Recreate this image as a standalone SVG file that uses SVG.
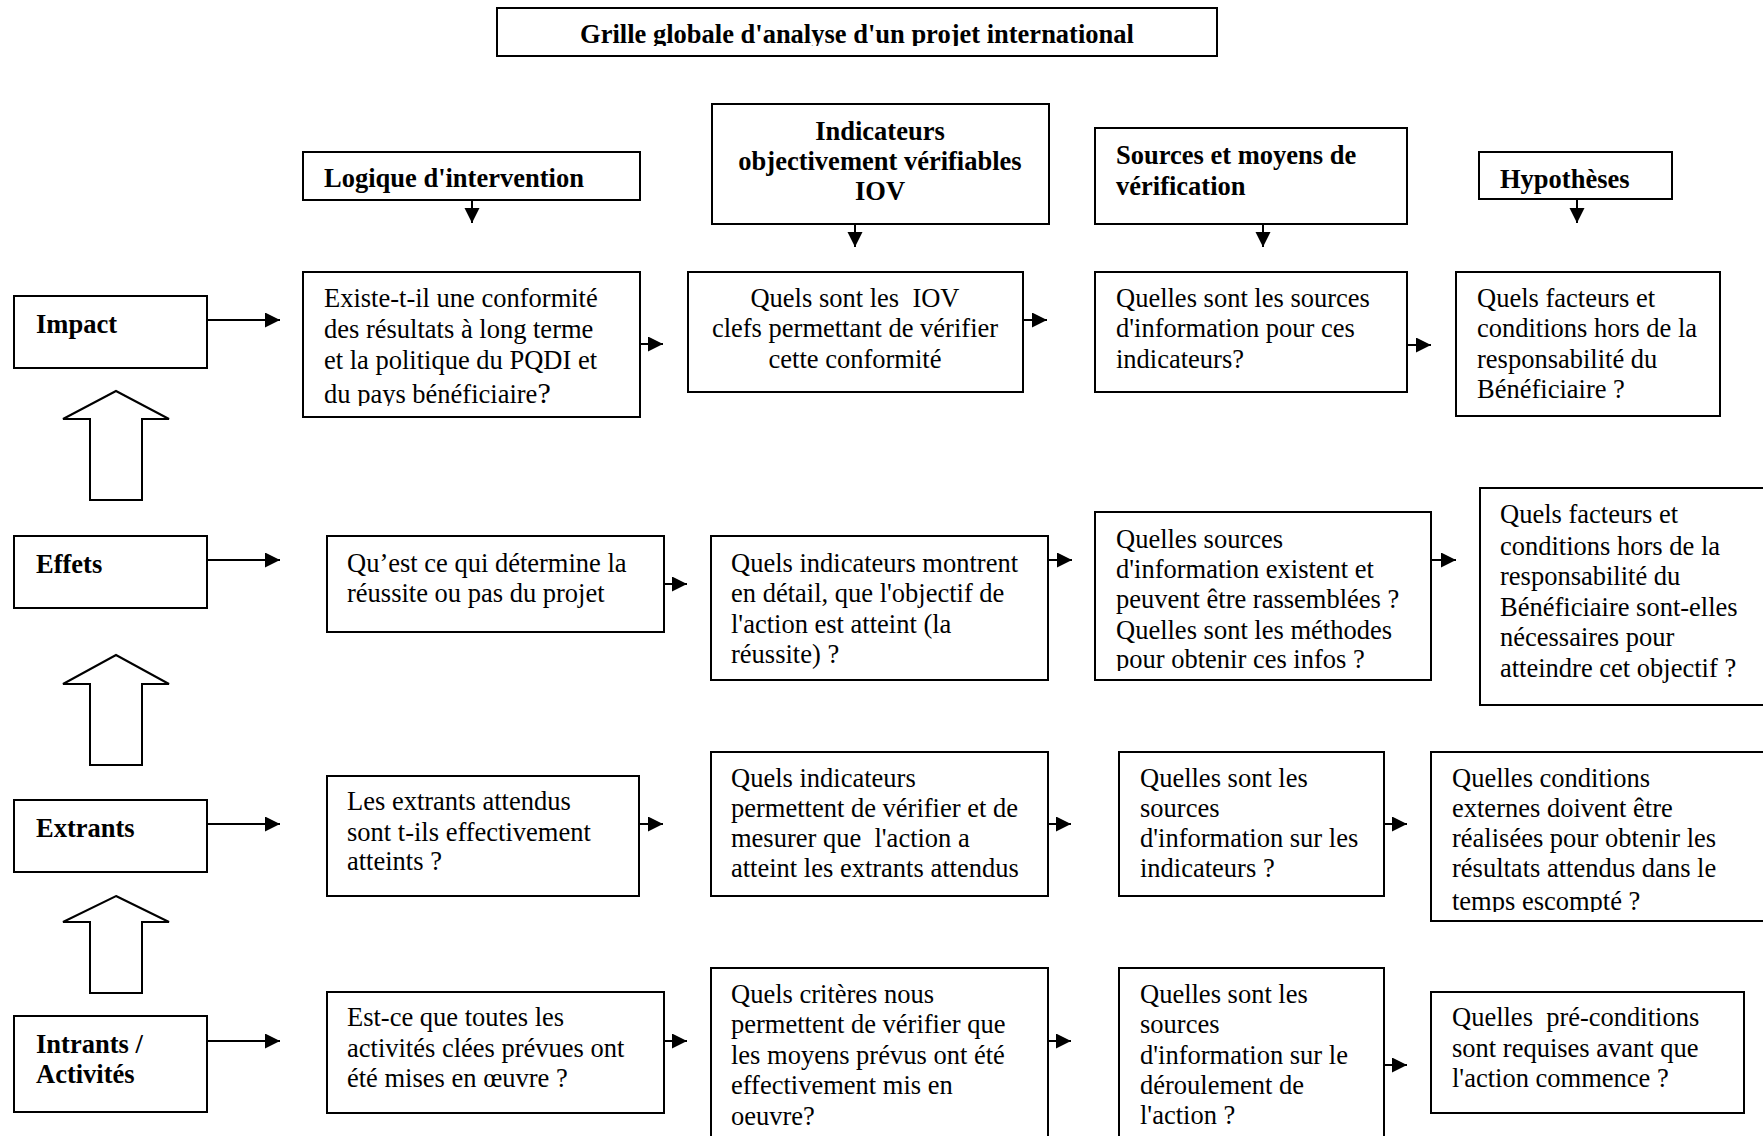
<svg xmlns="http://www.w3.org/2000/svg" width="1763" height="1136" viewBox="0 0 1763 1136">
  <style>
    .box { fill: #fff; stroke: #000; stroke-width: 2; }
    .t { font-family: "Liberation Serif", "Times New Roman", serif; font-size: 26.5px; fill: #000; white-space: pre; }
    .b { font-weight: bold; }
    .c { text-anchor: middle; }
    .hollow { fill: #fff; stroke: #000; stroke-width: 2; stroke-linejoin: miter; }
    .conn line { stroke: #000; stroke-width: 2; marker-end: url(#ah); }
  </style>
  <defs>
    <marker id="ah" markerUnits="userSpaceOnUse" markerWidth="16" markerHeight="16" refX="15" refY="7.5" orient="auto">
      <path d="M0,0 L15,7.5 L0,15 z" fill="#000"/>
    </marker>
    <clipPath id="clipTitle"><rect x="497" y="8" width="720" height="38"/></clipPath>
    <clipPath id="clipA1"><rect x="303" y="272" width="337" height="134"/></clipPath>
    <clipPath id="clipC2"><rect x="1095" y="512" width="336" height="159"/></clipPath>
    <clipPath id="clipD3"><rect x="1431" y="752" width="340" height="160"/></clipPath>
  </defs>

  <!-- title -->
  <g id="title">
    <rect class="box" x="497" y="8" width="720" height="48"/>
    <text class="t b c" x="857" y="43" clip-path="url(#clipTitle)">Grille globale d'analyse d'un projet international</text>
  </g>

  <!-- column headers -->
  <g id="head-logique">
    <rect class="box" x="303" y="152" width="337" height="48"/>
    <text class="t b" x="324" y="187">Logique d'intervention</text>
  </g>
  <g id="head-iov">
    <rect class="box" x="712" y="104" width="337" height="120"/>
    <text class="t b c" x="880" y="140">Indicateurs</text>
    <text class="t b c" x="880" y="170">objectivement vérifiables</text>
    <text class="t b c" x="880" y="200">IOV</text>
  </g>
  <g id="head-sources">
    <rect class="box" x="1095" y="128" width="312" height="96"/>
    <text class="t b" x="1116" y="164">Sources et moyens de</text>
    <text class="t b" x="1116" y="195">vérification</text>
  </g>
  <g id="head-hypotheses">
    <rect class="box" x="1479" y="152" width="193" height="47"/>
    <text class="t b" x="1500" y="188">Hypothèses</text>
  </g>

  <!-- row labels -->
  <g id="lbl-impact">
    <rect class="box" x="14" y="296" width="193" height="72"/>
    <text class="t b" x="36" y="333">Impact</text>
  </g>
  <g id="lbl-effets">
    <rect class="box" x="14" y="536" width="193" height="72"/>
    <text class="t b" x="36" y="573">Effets</text>
  </g>
  <g id="lbl-extrants">
    <rect class="box" x="14" y="800" width="193" height="72"/>
    <text class="t b" x="36" y="837">Extrants</text>
  </g>
  <g id="lbl-intrants">
    <rect class="box" x="14" y="1016" width="193" height="96"/>
    <text class="t b" x="36" y="1053">Intrants /</text>
    <text class="t b" x="36" y="1083">Activités</text>
  </g>

  <!-- hollow upward arrows between levels -->
  <g id="up-arrows">
    <polygon class="hollow" points="116,391 169,419 142,419 142,500 90,500 90,419 63,419"/>
    <polygon class="hollow" points="116,655 169,684 142,684 142,765 90,765 90,684 63,684"/>
    <polygon class="hollow" points="116,896 169,922 142,922 142,993 90,993 90,922 63,922"/>
  </g>

  <!-- row 1: impact -->
  <g id="impact-logique">
    <rect class="box" x="303" y="272" width="337" height="145"/>
    <g clip-path="url(#clipA1)">
      <text class="t" x="324" y="307">Existe-t-il une conformité</text>
      <text class="t" x="324" y="338">des résultats à long terme</text>
      <text class="t" x="324" y="369">et la politique du PQDI et</text>
      <text class="t" x="324" y="403">du pays bénéficiaire<tspan font-size="30px">?</tspan></text>
    </g>
  </g>
  <g id="impact-iov">
    <rect class="box" x="688" y="272" width="335" height="120"/>
    <text class="t c" x="855" y="307">Quels sont les  IOV</text>
    <text class="t c" x="855" y="337">clefs permettant de vérifier</text>
    <text class="t c" x="855" y="368">cette conformité</text>
  </g>
  <g id="impact-sources">
    <rect class="box" x="1095" y="272" width="312" height="120"/>
    <text class="t" x="1116" y="307">Quelles sont les sources</text>
    <text class="t" x="1116" y="337">d'information pour ces</text>
    <text class="t" x="1116" y="368">indicateurs?</text>
  </g>
  <g id="impact-hypotheses">
    <rect class="box" x="1456" y="272" width="264" height="144"/>
    <text class="t" x="1477" y="307">Quels facteurs et</text>
    <text class="t" x="1477" y="337">conditions hors de la</text>
    <text class="t" x="1477" y="368">responsabilité du</text>
    <text class="t" x="1477" y="398">Bénéficiaire ?</text>
  </g>

  <!-- row 2: effets -->
  <g id="effets-logique">
    <rect class="box" x="327" y="536" width="337" height="96"/>
    <text class="t" x="347" y="572">Qu’est ce qui détermine la</text>
    <text class="t" x="347" y="602">réussite ou pas du projet</text>
  </g>
  <g id="effets-iov">
    <rect class="box" x="711" y="536" width="337" height="144"/>
    <text class="t" x="731" y="572">Quels indicateurs montrent</text>
    <text class="t" x="731" y="602">en détail, que l'objectif de</text>
    <text class="t" x="731" y="633">l'action est atteint (la</text>
    <text class="t" x="731" y="663">réussite) ?</text>
  </g>
  <g id="effets-sources">
    <rect class="box" x="1095" y="512" width="336" height="168"/>
    <g clip-path="url(#clipC2)">
      <text class="t" x="1116" y="548">Quelles sources</text>
      <text class="t" x="1116" y="578">d'information existent et</text>
      <text class="t" x="1116" y="608">peuvent être rassemblées ?</text>
      <text class="t" x="1116" y="639">Quelles sont les méthodes</text>
      <text class="t" x="1116" y="668">pour obtenir ces infos ?</text>
    </g>
  </g>
  <g id="effets-hypotheses">
    <rect class="box" x="1480" y="488" width="300" height="217"/>
    <text class="t" x="1500" y="523">Quels facteurs et</text>
    <text class="t" x="1500" y="555">conditions hors de la</text>
    <text class="t" x="1500" y="585">responsabilité du</text>
    <text class="t" x="1500" y="616">Bénéficiaire sont-elles</text>
    <text class="t" x="1500" y="646">nécessaires pour</text>
    <text class="t" x="1500" y="677">atteindre cet objectif ?</text>
  </g>

  <!-- row 3: extrants -->
  <g id="extrants-logique">
    <rect class="box" x="327" y="776" width="312" height="120"/>
    <text class="t" x="347" y="810">Les extrants attendus</text>
    <text class="t" x="347" y="841">sont t-ils effectivement</text>
    <text class="t" x="347" y="870">atteints ?</text>
  </g>
  <g id="extrants-iov">
    <rect class="box" x="711" y="752" width="337" height="144"/>
    <text class="t" x="731" y="787">Quels indicateurs</text>
    <text class="t" x="731" y="817">permettent de vérifier et de</text>
    <text class="t" x="731" y="847">mesurer que  l'action a</text>
    <text class="t" x="731" y="877">atteint les extrants attendus</text>
  </g>
  <g id="extrants-sources">
    <rect class="box" x="1119" y="752" width="265" height="144"/>
    <text class="t" x="1140" y="787">Quelles sont les</text>
    <text class="t" x="1140" y="817">sources</text>
    <text class="t" x="1140" y="847">d'information sur les</text>
    <text class="t" x="1140" y="877">indicateurs ?</text>
  </g>
  <g id="extrants-hypotheses">
    <rect class="box" x="1431" y="752" width="350" height="169"/>
    <g clip-path="url(#clipD3)">
      <text class="t" x="1452" y="787">Quelles conditions</text>
      <text class="t" x="1452" y="817">externes doivent être</text>
      <text class="t" x="1452" y="847">réalisées pour obtenir les</text>
      <text class="t" x="1452" y="877">résultats attendus dans le</text>
      <text class="t" x="1452" y="910">temps escompté ?</text>
    </g>
  </g>

  <!-- row 4: intrants / activités -->
  <g id="intrants-logique">
    <rect class="box" x="327" y="992" width="337" height="121"/>
    <text class="t" x="347" y="1026">Est-ce que toutes les</text>
    <text class="t" x="347" y="1057">activités clées prévues ont</text>
    <text class="t" x="347" y="1087">été mises en œuvre ?</text>
  </g>
  <g id="intrants-iov">
    <rect class="box" x="711" y="968" width="337" height="190"/>
    <text class="t" x="731" y="1003">Quels critères nous</text>
    <text class="t" x="731" y="1033">permettent de vérifier que</text>
    <text class="t" x="731" y="1064">les moyens prévus ont été</text>
    <text class="t" x="731" y="1094">effectivement mis en</text>
    <text class="t" x="731" y="1125">oeuvre?</text>
  </g>
  <g id="intrants-sources">
    <rect class="box" x="1119" y="968" width="265" height="190"/>
    <text class="t" x="1140" y="1003">Quelles sont les</text>
    <text class="t" x="1140" y="1033">sources</text>
    <text class="t" x="1140" y="1064">d'information sur le</text>
    <text class="t" x="1140" y="1094">déroulement de</text>
    <text class="t" x="1140" y="1124">l'action ?</text>
  </g>
  <g id="intrants-hypotheses">
    <rect class="box" x="1431" y="992" width="313" height="121"/>
    <text class="t" x="1452" y="1026">Quelles  pré-conditions</text>
    <text class="t" x="1452" y="1057">sont requises avant que</text>
    <text class="t" x="1452" y="1087">l'action commence ?</text>
  </g>

  <!-- connectors -->
  <g id="connectors" class="conn">
    <!-- headers down to first row -->
    <line x1="472" y1="200" x2="472" y2="223"/>
    <line x1="855" y1="224" x2="855" y2="247"/>
    <line x1="1263" y1="224" x2="1263" y2="247"/>
    <line x1="1577" y1="199" x2="1577" y2="223"/>
    <!-- row labels to rows -->
    <line x1="207" y1="320" x2="280" y2="320"/>
    <line x1="207" y1="560" x2="280" y2="560"/>
    <line x1="207" y1="824" x2="280" y2="824"/>
    <line x1="207" y1="1041" x2="280" y2="1041"/>
    <!-- row 1 -->
    <line x1="640" y1="344" x2="663" y2="344"/>
    <line x1="1023" y1="320" x2="1047" y2="320"/>
    <line x1="1407" y1="345" x2="1431" y2="345"/>
    <!-- row 2 -->
    <line x1="664" y1="584" x2="687" y2="584"/>
    <line x1="1048" y1="560" x2="1072" y2="560"/>
    <line x1="1431" y1="560" x2="1456" y2="560"/>
    <!-- row 3 -->
    <line x1="639" y1="824" x2="663" y2="824"/>
    <line x1="1048" y1="824" x2="1071" y2="824"/>
    <line x1="1384" y1="824" x2="1407" y2="824"/>
    <!-- row 4 -->
    <line x1="664" y1="1041" x2="687" y2="1041"/>
    <line x1="1048" y1="1041" x2="1071" y2="1041"/>
    <line x1="1384" y1="1065" x2="1407" y2="1065"/>
  </g>
</svg>
